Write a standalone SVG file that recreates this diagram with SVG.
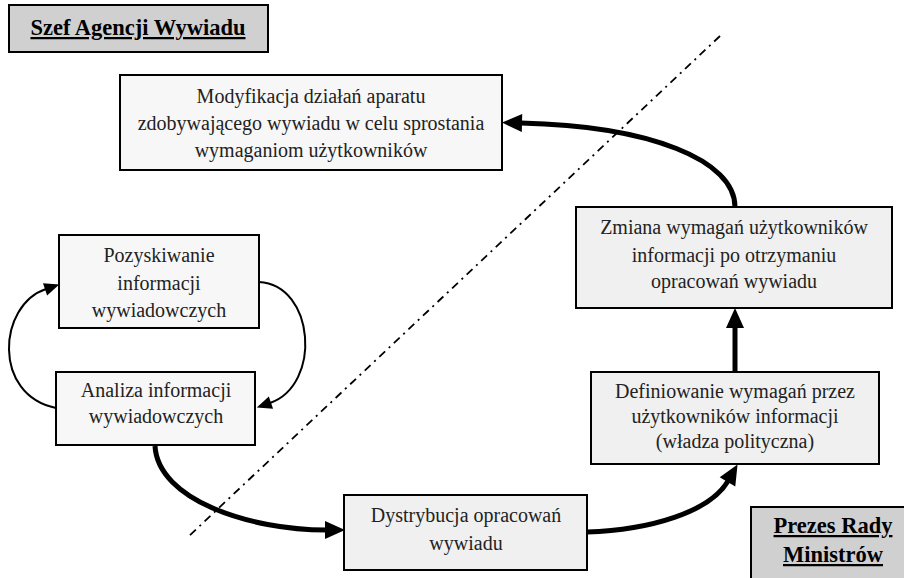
<svg xmlns="http://www.w3.org/2000/svg" width="904" height="578" viewBox="0 0 904 578">
<style>
  .box { stroke: #000; stroke-width: 2; }
  .light { fill: #f7f7f7; }
  .mid { fill: #f0f0f0; }
  .gray { fill: #d0d0d0; }
  .t { font-family: "Liberation Serif", "Times New Roman", serif; font-size: 20px; fill: #222; text-anchor: middle; }
  .h { font-family: "Liberation Serif", "Times New Roman", serif; font-size: 22.5px; font-weight: bold; fill: #000; text-anchor: middle; text-decoration: underline; }
  .thick { fill: none; stroke: #000; stroke-width: 5; }
  .thin { fill: none; stroke: #000; stroke-width: 2; }
  .divider { fill: none; stroke: #000; stroke-width: 1.8; stroke-dasharray: 8 5 2 5; }
</style>
<defs>
  <marker id="bigArrow" markerUnits="userSpaceOnUse" markerWidth="20" markerHeight="18" viewBox="0 0 20 18" refX="1" refY="9" orient="auto" overflow="visible">
    <path d="M0,0 L20,9 L0,18 z" fill="#000"/>
  </marker>
  <marker id="smallArrow" markerUnits="userSpaceOnUse" markerWidth="15" markerHeight="13" viewBox="0 0 15 13" refX="1" refY="6.5" orient="auto" overflow="visible">
    <path d="M0,0 L15,6.5 L0,13 z" fill="#000"/>
  </marker>
</defs>
<rect width="904" height="578" fill="#fff"/>

<g id="divider">
  <line class="divider" x1="720" y1="36" x2="188" y2="537"/>
</g>

<g id="szef">
  <rect class="box gray" x="9" y="5" width="259" height="47"/>
  <text class="h" x="138" y="35">Szef Agencji Wywiadu</text>
</g>

<g id="prezes">
  <rect class="box gray" x="751" y="507" width="170" height="90"/>
  <text class="h" x="833" y="533">Prezes Rady</text>
  <text class="h" x="833" y="562">Ministrów</text>
</g>

<g id="modyfikacja">
  <rect class="box light" x="120" y="75" width="382" height="95"/>
  <text class="t" x="311" y="103">Modyfikacja działań aparatu</text>
  <text class="t" x="311" y="130">zdobywającego wywiadu w celu sprostania</text>
  <text class="t" x="311" y="157">wymaganiom użytkowników</text>
</g>

<g id="pozyskiwanie">
  <rect class="box light" x="59" y="235" width="200" height="93"/>
  <text class="t" x="159" y="262">Pozyskiwanie</text>
  <text class="t" x="159" y="290">informacji</text>
  <text class="t" x="159" y="317">wywiadowczych</text>
</g>

<g id="analiza">
  <rect class="box light" x="56" y="372" width="199" height="73"/>
  <text class="t" x="156" y="397">Analiza informacji</text>
  <text class="t" x="156" y="423">wywiadowczych</text>
</g>

<g id="zmiana">
  <rect class="box mid" x="576" y="207" width="316" height="101"/>
  <text class="t" x="734" y="234">Zmiana wymagań użytkowników</text>
  <text class="t" x="734" y="262">informacji po otrzymaniu</text>
  <text class="t" x="734" y="288">opracowań wywiadu</text>
</g>

<g id="definiowanie">
  <rect class="box mid" x="591" y="372" width="288" height="92"/>
  <text class="t" x="735" y="398">Definiowanie wymagań przez</text>
  <text class="t" x="735" y="423">użytkowników informacji</text>
  <text class="t" x="735" y="448">(władza polityczna)</text>
</g>

<g id="dystrybucja">
  <rect class="box mid" x="344" y="495" width="243" height="75"/>
  <text class="t" x="466" y="522">Dystrybucja opracowań</text>
  <text class="t" x="466" y="550">wywiadu</text>
</g>

<g id="connectors">
  <path class="thick" d="M735,207 C735,160 650,126 521,123" marker-end="url(#bigArrow)"/>
  <path class="thick" d="M735,372 L735,327" marker-end="url(#bigArrow)"/>
  <path class="thick" d="M155,446 C158,500 250,530 326,530" marker-end="url(#bigArrow)"/>
  <path class="thick" d="M587,532 C650,530 710,512 728,481" marker-end="url(#bigArrow)"/>
  <path class="thin" d="M56,408 C-8,395 -2,305 46,289" marker-end="url(#smallArrow)"/>
  <path class="thin" d="M259,282 C315,285 322,385 270,403" marker-end="url(#smallArrow)"/>
</g>
</svg>
